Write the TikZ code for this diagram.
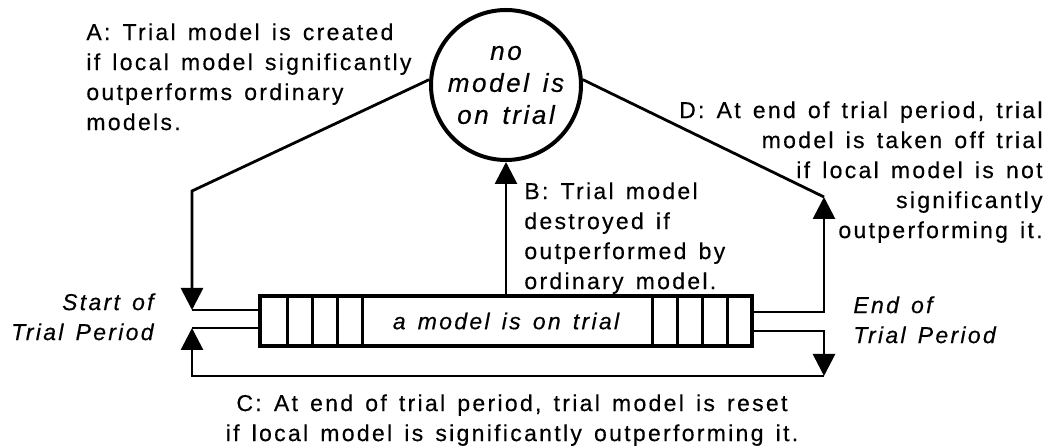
\documentclass[tikz,border=0pt]{standalone}
\usepackage{fontspec}
\setmainfont{Liberation Sans}[LetterSpace=10,WordSpace=1.4,FakeBold=0.4]
\usetikzlibrary{arrows.meta}
\newcommand\labelsize{\fontsize{11.5}{15}\selectfont}
\begin{document}
\begin{tikzpicture}[>={Triangle[length=11pt,width=11pt]},font=\labelsize,x=0.5pt,y=-0.5pt,line width=1.4pt]
  \tikzset{state/.style={draw, circle, line width=2pt, minimum size=75pt, inner sep=0pt, align=center, font=\fontsize{13}{16}\selectfont\itshape},
    trialbox/.style={draw, line width=2.2pt, minimum width=246pt, minimum height=25pt, inner sep=0pt, font=\labelsize\itshape},
    note/.style={inner sep=0pt, align=left},
    cell/.style={line width=1.5pt}}
  \useasboundingbox (0,0) rectangle (1049,448);
  \node[state] (idle) at (506,85) {no\\model is\\on trial};
  \node[trialbox] (trial) at (506,321) {a model is on trial};
  \foreach \cx in {287,312,337,362,652,677,702,727}
    \draw[cell] (\cx,296) -- (\cx,346);
  \node[note, anchor=north west] (ta) at (85,22) {A: Trial model is created\\if local model significantly\\outperforms ordinary\\models.};
  \node[note, anchor=north west] (tb) at (523,181) {B: Trial model\\destroyed if\\outperformed by\\ordinary model.};
  \node[note, anchor=north, align=center] (tc) at (512,393) {C: At end of trial period, trial model is reset\\if local model is significantly outperforming it.};
  \node[note, anchor=north east, align=right] (td) at (1044,100) {D: At end of trial period, trial\\model is taken off trial\\if local model is not\\significantly\\outperforming it.};
  \node[note, anchor=north east, align=right, font=\labelsize\itshape] (ts) at (155,292) {Start of\\Trial Period};
  \node[note, anchor=north west, font=\labelsize\itshape] (te) at (852,295) {End of\\Trial Period};
  \coordinate (aknee) at (192,191);
  \coordinate (dknee) at (824,197);
  \coordinate (sa) at (192,310);
  \coordinate (sc) at (192,328);
  \coordinate (ed) at (824,312);
  \coordinate (ec) at (824,331);
  \coordinate (cl) at (192,376);
  \coordinate (cr) at (824,376);
  \draw[->] (idle.176) -- (aknee) -- (sa);
  \draw (sa) -- (sa -| trial.west);
  \draw[->] (trial.north) -- (idle.south);
  \draw[->] (ec -| trial.east) -- (ec) -- (cr);
  \draw[->] (cr) -- (cl) -- (sc);
  \draw (sc) -- (sc -| trial.west);
  \draw[->] (ed -| trial.east) -- (ed) -- (dknee);
  \draw (dknee) -- (idle.4);
\end{tikzpicture}
\end{document}
